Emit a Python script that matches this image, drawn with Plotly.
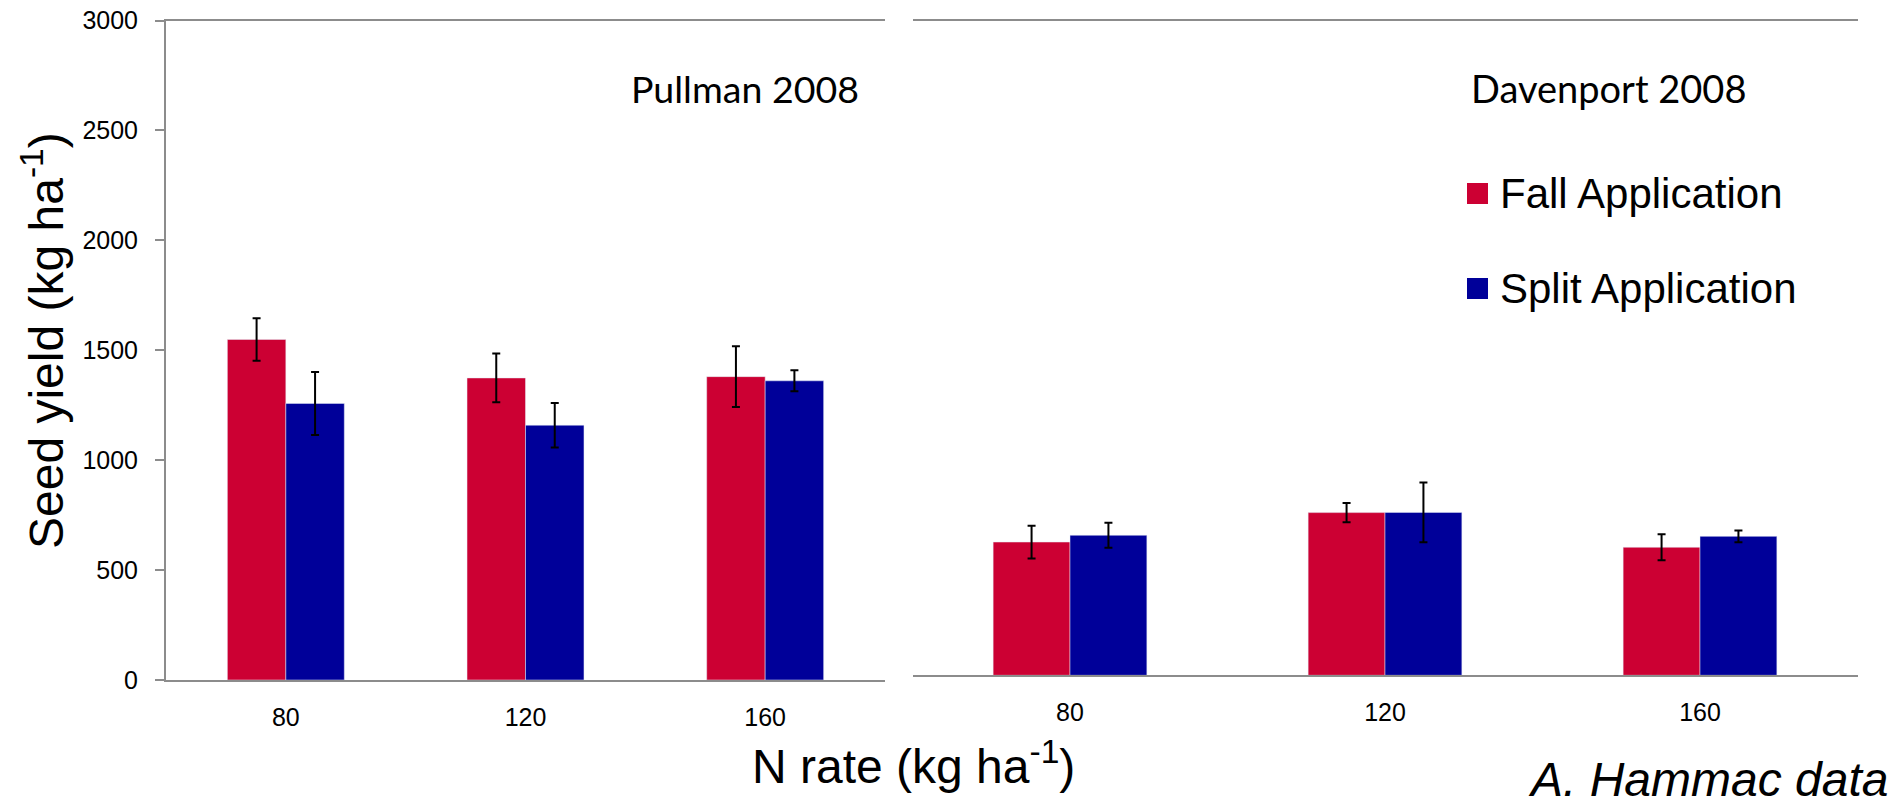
import plotly.graph_objects as go

W, H = 1895, 811

categories = ["80", "120", "160"]
pullman_fall = [1549, 1374, 1380]
pullman_fall_err = [97, 111, 138]
pullman_split = [1258, 1159, 1361]
pullman_split_err = [143, 101, 48]
davenport_fall = [611, 746, 587]
davenport_fall_err = [75, 44, 60]
davenport_split = [642, 747, 637]
davenport_split_err = [57, 137, 27]
y_ticks = [0, 500, 1000, 1500, 2000, 2500, 3000]

RED = "#CC0033"
BLUE = "#000099"
GRAY = "#8c8c8c"
FONT = "Liberation Sans, Arial, sans-serif"


def px(x):
    return x / W


def py(y):
    return 1 - y / H


def err(vals):
    return dict(type="data", array=vals, visible=True, color="black",
                thickness=2, width=4)


fig = go.Figure()
fig.add_trace(go.Bar(x=categories, y=pullman_fall, error_y=err(pullman_fall_err),
                     marker_color=RED, name="Fall Application", showlegend=False,
                     xaxis="x", yaxis="y"))
fig.add_trace(go.Bar(x=categories, y=pullman_split, error_y=err(pullman_split_err),
                     marker_color=BLUE, name="Split Application", showlegend=False,
                     xaxis="x", yaxis="y"))
fig.add_trace(go.Bar(x=categories, y=davenport_fall, error_y=err(davenport_fall_err),
                     marker_color=RED, name="Fall Application", showlegend=False,
                     xaxis="x2", yaxis="y2"))
fig.add_trace(go.Bar(x=categories, y=davenport_split, error_y=err(davenport_split_err),
                     marker_color=BLUE, name="Split Application", showlegend=False,
                     xaxis="x2", yaxis="y2"))

tickfont = dict(family=FONT, size=25, color="black")

fig.update_layout(
    width=W, height=H,
    autosize=False,
    margin=dict(l=0, r=0, t=0, b=0, pad=0, autoexpand=False),
    paper_bgcolor="white", plot_bgcolor="white",
    barmode="group", bargap=0.512, bargroupgap=0,
    xaxis=dict(domain=[px(166), px(885)], anchor="y", type="category",
               range=[-0.5, 2.5], showline=True, mirror=True, linecolor=GRAY,
               linewidth=2, ticks="", showgrid=False, tickfont=tickfont,
               ticklabelstandoff=14, zeroline=False, automargin=False),
    yaxis=dict(domain=[py(680), py(20.5)], anchor="x", range=[0, 3000],
               tickvals=y_ticks, showline=True, linecolor=GRAY, linewidth=2,
               ticks="outside", ticklen=9, tickcolor=GRAY, tickwidth=2,
               showgrid=False, zeroline=False, tickfont=tickfont,
               ticklabelstandoff=12, automargin=False),
    xaxis2=dict(domain=[px(912.5), px(1857.5)], anchor="y2", type="category",
                range=[-0.5, 2.5], showline=True, mirror=True, linecolor=GRAY,
                linewidth=2, ticks="", showgrid=False, tickfont=tickfont,
                ticklabelstandoff=14, zeroline=False, automargin=False),
    yaxis2=dict(domain=[py(675.3), py(21)], anchor="x2", range=[0, 3000],
                visible=False, showgrid=False, zeroline=False, automargin=False),
    showlegend=False,
)

annotations = [
    dict(text="Seed yield (kg ha<sup>-1</sup>)", x=px(43), y=py(341), textangle=-90,
         font=dict(family=FONT, size=48, color="black")),
    dict(text="N rate (kg ha<sup>-1</sup>)", x=px(913), y=py(763),
         font=dict(family=FONT, size=48, color="black")),
    dict(text="Pullman 2008", x=px(861), y=py(88), xanchor="right",
         font=dict(family="Lato, sans-serif", size=37.5, color="black")),
    dict(text="Davenport 2008", x=px(1748), y=py(88), xanchor="right",
         font=dict(family="Lato, sans-serif", size=38, color="black")),
    dict(text="Fall Application", x=px(1498), y=py(193), xanchor="left",
         font=dict(family=FONT, size=42, color="black")),
    dict(text="Split Application", x=px(1498), y=py(288), xanchor="left",
         font=dict(family=FONT, size=42, color="black")),
    dict(text="<i>A. Hammac data</i>", x=px(1890), y=py(779), xanchor="right",
         font=dict(family=FONT, size=48, color="black")),
]
for a in annotations:
    a.update(xref="paper", yref="paper", showarrow=False)
    a.setdefault("xanchor", "center")
    a.setdefault("yanchor", "middle")
fig.update_layout(annotations=annotations)

fig.add_shape(type="rect", xref="paper", yref="paper",
              x0=px(1467), x1=px(1488), y0=py(204), y1=py(183),
              fillcolor=RED, line_width=0)
fig.add_shape(type="rect", xref="paper", yref="paper",
              x0=px(1467), x1=px(1488), y0=py(299), y1=py(278),
              fillcolor=BLUE, line_width=0)

fig.write_html(
    "out.html",
    config={"displayModeBar": False},
    post_script="document.body.style.margin='0';document.body.style.overflow='hidden';",
)
